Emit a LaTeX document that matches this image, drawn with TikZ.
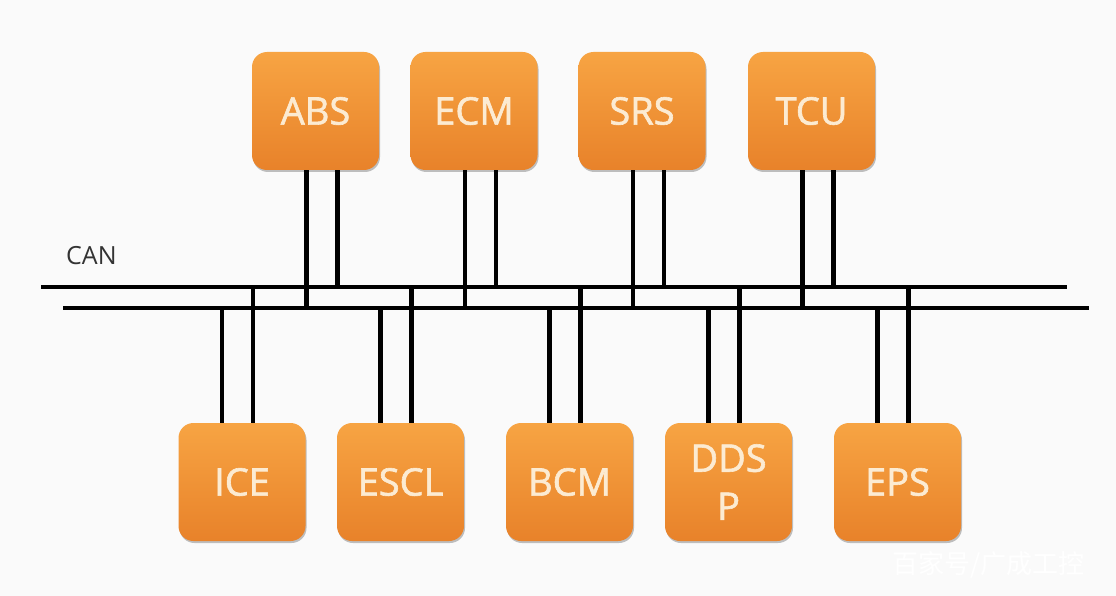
\documentclass[tikz,border=0pt]{standalone}
\usepackage{fontspec}
\setmainfont{Open Sans}
\newfontfamily\ecufont{Open Sans}[FakeBold=1.6]
\newfontfamily\cjk{Noto Sans CJK SC}
\usetikzlibrary{shadows}
\definecolor{bgc}{HTML}{FAFAFA}
\definecolor{ecutop}{HTML}{F7A443}
\definecolor{ecubot}{HTML}{E8822A}
\definecolor{ecutxt}{HTML}{FCEBD2}
\definecolor{cantxt}{HTML}{333333}
\tikzset{
  ecu/.style={rounded corners=15pt, minimum width=127pt, minimum height=118pt,
    top color=ecutop, bottom color=ecubot, draw=none,
    drop shadow={opacity=0.35, shadow xshift=1pt, shadow yshift=-2pt, fill=black!70},
    text=ecutxt, font=\ecufont\fontsize{38}{48}\selectfont, align=center, inner sep=0pt},
  wire/.style={line width=4.5pt, black},
  bus/.style={line width=4.5pt, black}
}
\begin{document}
\begin{tikzpicture}[x=1pt,y=-1pt]
\fill[bgc] (0,0) rectangle (1116,596);
\useasboundingbox (0,0) rectangle (1116,596);
% bus coordinates
\coordinate (b1L) at (41,287);
\coordinate (b1R) at (1067,287);
\coordinate (b2L) at (63,308);
\coordinate (b2R) at (1089,308);
% top ECUs
\node[ecu] (abs) at (315.5,111) {ABS};
\node[ecu] (ecm) at (474,111) {ECM};
\node[ecu] (srs) at (642,111) {SRS};
\node[ecu] (tcu) at (811.5,111) {TCU};
% bottom ECUs
\node[ecu] (ice) at (242,482) {ICE};
\node[ecu] (escl) at (400.5,482) {ESCL};
\node[ecu] (bcm) at (569.5,482) {BCM};
\node[ecu] (ddsp) at (728.5,482) {DDS\\P};
\node[ecu] (eps) at (897.5,482) {EPS};
% CAN label
\node[text=cantxt, font=\fontsize{25}{30}\selectfont, anchor=west, inner sep=0pt] (can) at (66,256) {CAN};
% wires from top ECUs
\foreach \n in {abs,ecm,srs,tcu}{
  \draw[wire] ([xshift=-9pt]\n.south) -- ([xshift=-9pt]\n.south |- b2L);
  \draw[wire] ([xshift=22pt]\n.south) -- ([xshift=22pt]\n.south |- b1L);
}
% wires to bottom ECUs
\foreach \n in {ice,escl,bcm,ddsp,eps}{
  \draw[wire] ([xshift=-20pt]\n.north) -- ([xshift=-20pt]\n.north |- b2L);
  \draw[wire] ([xshift=11pt]\n.north) -- ([xshift=11pt]\n.north |- b1L);
}
% bus lines
\draw[bus] (b1L) -- (b1R);
\draw[bus] (b2L) -- (b2R);
% watermark
\node[text=white, font=\cjk\fontsize{26}{30}\selectfont, anchor=west, inner sep=0pt] (wm) at (892,565) {百家号/广成工控};
\end{tikzpicture}
\end{document}
